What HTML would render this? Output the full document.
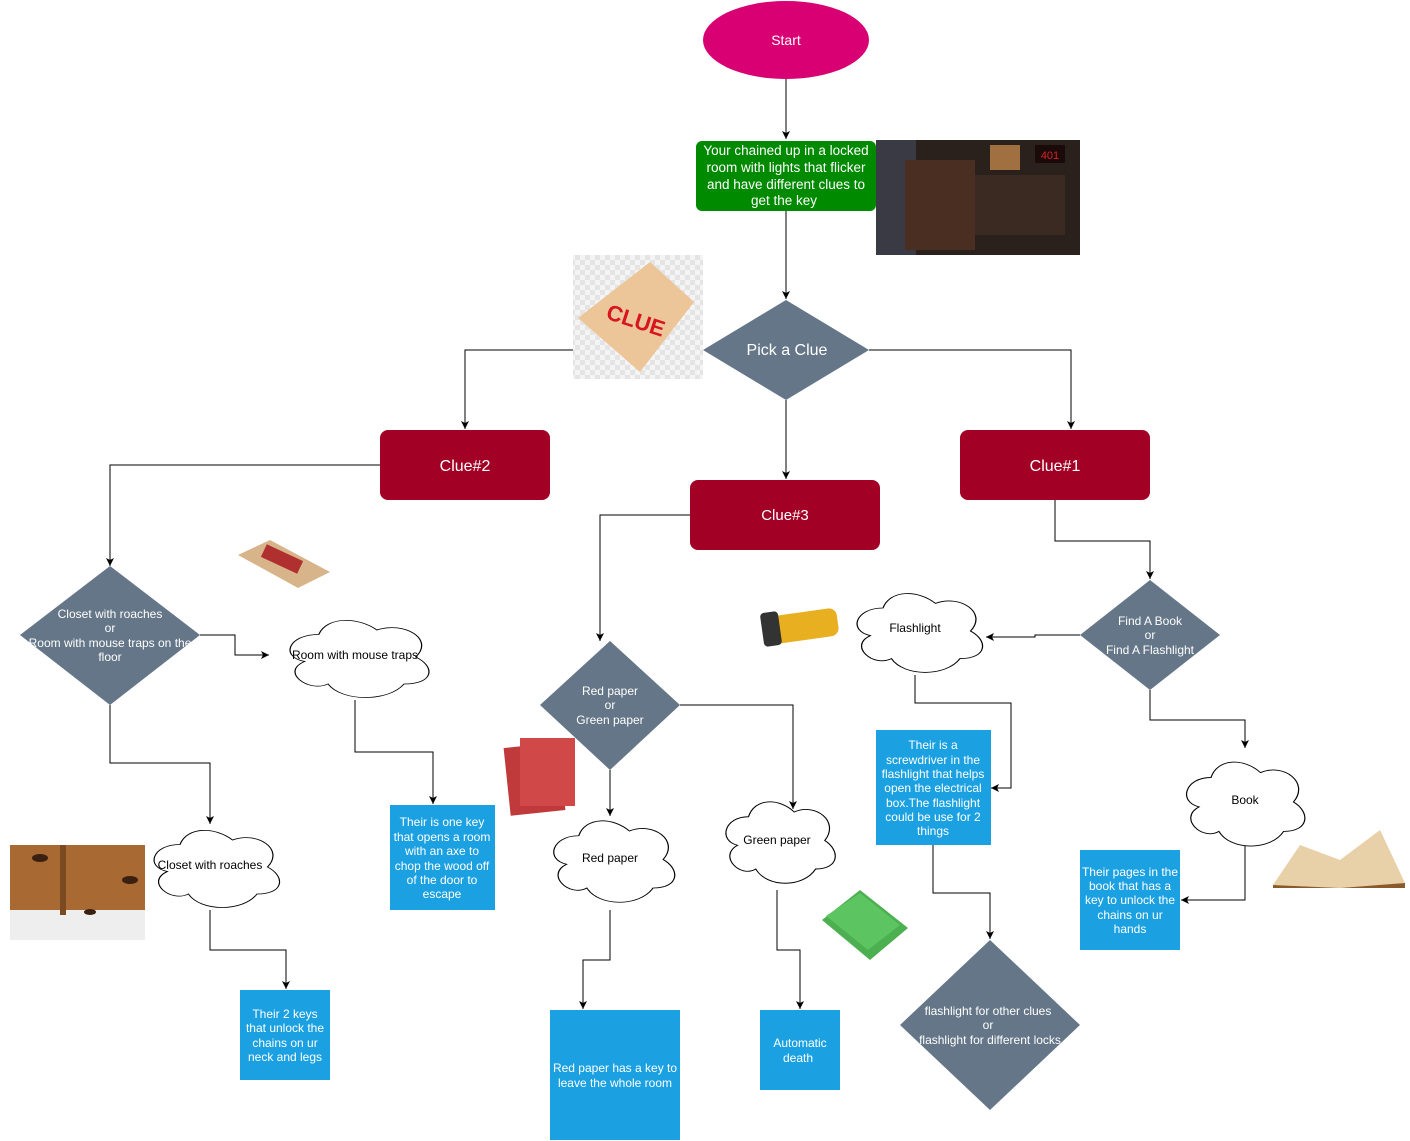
<!DOCTYPE html>
<html><head><meta charset="utf-8"><style>
html,body{margin:0;padding:0;background:#fff;}
svg{display:block;font-family:"Liberation Sans",Arial,sans-serif;}
.l{fill:none;stroke:#000;stroke-width:1;}
.cl{fill:#fff;stroke:#000;}
.t{fill:#fff;text-anchor:middle;}
.k{fill:#000;text-anchor:middle;}
</style></head><body>
<svg width="1410" height="1141" viewBox="0 0 1410 1141" xmlns="http://www.w3.org/2000/svg" font-size="12">
<defs>
<marker id="a" markerWidth="10" markerHeight="10" refX="8" refY="5" orient="auto" markerUnits="userSpaceOnUse">
<path d="M0,1 L8,5 L0,9 L2,5 Z" fill="#000"/></marker>
<path id="cloud" d="M25 25 C5 25 0 50 16 55 C0 66 18 90 31 80 C40 100 70 100 80 80 C100 80 100 60 87.5 50 C100 30 80 10 62.5 20 C50 5 30 5 25 25 Z"/>
<pattern id="chk" width="10" height="10" patternUnits="userSpaceOnUse"><rect width="10" height="10" fill="#f4f4f4"/><rect width="5" height="5" fill="#e4e4e4"/><rect x="5" y="5" width="5" height="5" fill="#e4e4e4"/></pattern>
</defs>

<!-- connectors -->
<path class="l" d="M786 79 V139" marker-end="url(#a)"/>
<path class="l" d="M786 211 V299" marker-end="url(#a)"/>
<path class="l" d="M573 350 H465 V429" marker-end="url(#a)"/>
<path class="l" d="M869 350 H1071 V429" marker-end="url(#a)"/>
<path class="l" d="M786 400 V479" marker-end="url(#a)"/>
<path class="l" d="M380 465 H110 V566" marker-end="url(#a)"/>
<path class="l" d="M200 635 H235 V655 H269" marker-end="url(#a)"/>
<path class="l" d="M355 700 V752 H433 V804" marker-end="url(#a)"/>
<path class="l" d="M110 705 V763 H210 V824" marker-end="url(#a)"/>
<path class="l" d="M210 910 V950 H286 V989" marker-end="url(#a)"/>
<path class="l" d="M690 515 H600 V641" marker-end="url(#a)"/>
<path class="l" d="M610 770 V816" marker-end="url(#a)"/>
<path class="l" d="M680 705 H793 V809" marker-end="url(#a)"/>
<path class="l" d="M610 910 V960 H583 V1009" marker-end="url(#a)"/>
<path class="l" d="M777 890 V950 H800 V1009" marker-end="url(#a)"/>
<path class="l" d="M1055 500 V541 H1150 V579" marker-end="url(#a)"/>
<path class="l" d="M1080 635 H1035 V637 H986" marker-end="url(#a)"/>
<path class="l" d="M915 675 V703 H1011 V788 H991" marker-end="url(#a)"/>
<path class="l" d="M933 845 V893 H990 V939" marker-end="url(#a)"/>
<path class="l" d="M1150 690 V720 H1245 V748" marker-end="url(#a)"/>
<path class="l" d="M1245 845 V900 H1181" marker-end="url(#a)"/>

<!-- start -->
<ellipse cx="786" cy="40" rx="83" ry="39" fill="#d80073"/>
<text class="t" x="786" y="45" style="font-size:14px">Start</text>

<!-- green -->
<rect x="696" y="141" width="180" height="70" rx="6" fill="#008a00"/>
<text class="t" style="font-size:13.5px"><tspan x="786" y="155">Your chained up in a locked</tspan><tspan x="786" y="172">room with lights that flicker</tspan><tspan x="786" y="189">and have different clues  to</tspan><tspan x="784" y="205">get the key</tspan></text>
<!-- room photo -->
<rect x="876" y="140" width="204" height="115" fill="#2a211d"/>
<rect x="876" y="140" width="40" height="115" fill="#3a3a44"/>
<rect x="905" y="160" width="70" height="90" fill="#4a2e22"/>
<rect x="975" y="175" width="90" height="60" fill="#3b2a22"/>
<rect x="990" y="145" width="30" height="25" fill="#a07040"/>
<rect x="1035" y="145" width="30" height="18" fill="#1a0a0a"/>
<text x="1050" y="159" fill="#e02020" text-anchor="middle" style="font-size:11px">401</text>

<!-- clue image -->
<rect x="573" y="255" width="130" height="124" fill="url(#chk)"/>
<polygon points="578,318 650,262 694,302 640,372" fill="#ecc698"/>
<text x="636" y="328" font-weight="bold" fill="#d8141e" text-anchor="middle" transform="rotate(18 636 320)" style="font-size:22px">CLUE</text>

<!-- pick a clue -->
<polygon points="786,300 869,350 786,400 703,350" fill="#647687"/>
<text class="t" x="787" y="355" style="font-size:16px">Pick a Clue</text>

<!-- clue boxes -->
<rect x="380" y="430" width="170" height="70" rx="8" fill="#a20025"/>
<text class="t" x="465" y="471" style="font-size:16px">Clue#2</text>
<rect x="960" y="430" width="190" height="70" rx="8" fill="#a20025"/>
<text class="t" x="1055" y="471" style="font-size:16px">Clue#1</text>
<rect x="690" y="480" width="190" height="70" rx="8" fill="#a20025"/>
<text class="t" x="785" y="520" style="font-size:15px">Clue#3</text>

<!-- closet diamond -->
<polygon points="110,566 200,635 110,705 20,635" fill="#647687"/>
<text class="t"><tspan x="110" y="618">Closet with roaches</tspan><tspan x="110" y="632">or</tspan><tspan x="110" y="647">Room with mouse traps on the</tspan><tspan x="110" y="661">floor</tspan></text>

<!-- mousetrap -->
<polygon points="238,555 270,540 330,572 298,588" fill="#d8b48a"/>
<rect x="262" y="552" width="40" height="14" fill="#b03030" transform="rotate(25 282 559)"/>

<!-- clouds -->
<use href="#cloud" class="cl" transform="translate(280,612) scale(1.55,0.9)" style="stroke-width:0.8"/>
<text class="k" x="355" y="659">Room with mouse traps</text>
<use href="#cloud" class="cl" transform="translate(145,822) scale(1.4,0.9)" style="stroke-width:0.85"/>
<text class="k" x="210" y="869">Closet with roaches</text>
<use href="#cloud" class="cl" transform="translate(545,812) scale(1.35,0.95)" style="stroke-width:0.9"/>
<text class="k" x="610" y="862">Red paper</text>
<use href="#cloud" class="cl" transform="translate(718,793) scale(1.22,0.95)" style="stroke-width:0.95"/>
<text class="k" x="777" y="844">Green paper</text>
<use href="#cloud" class="cl" transform="translate(848,585) scale(1.4,0.92)" style="stroke-width:0.9"/>
<text class="k" x="915" y="632">Flashlight</text>
<use href="#cloud" class="cl" transform="translate(1178,753) scale(1.32,0.98)" style="stroke-width:0.9"/>
<text class="k" x="1245" y="804">Book</text>

<!-- roach photo -->
<rect x="10" y="845" width="135" height="95" fill="#a86a32"/>
<rect x="10" y="910" width="135" height="30" fill="#eeeeee"/>
<rect x="60" y="845" width="6" height="70" fill="#7a4a22"/>
<ellipse cx="40" cy="858" rx="8" ry="4" fill="#3a2010"/>
<ellipse cx="130" cy="880" rx="8" ry="4" fill="#3a2010"/>
<ellipse cx="90" cy="912" rx="6" ry="3" fill="#3a2010"/>

<!-- blue boxes -->
<rect x="390" y="805" width="105" height="105" fill="#1ba1e2"/>
<text class="t"><tspan x="442" y="826">Their is one key</tspan><tspan x="442" y="841">that opens a room</tspan><tspan x="442" y="855">with an axe to</tspan><tspan x="442" y="870">chop the wood off</tspan><tspan x="442" y="884">of the door to</tspan><tspan x="442" y="898">escape</tspan></text>
<rect x="240" y="990" width="90" height="90" fill="#1ba1e2"/>
<text class="t"><tspan x="285" y="1018">Their 2 keys</tspan><tspan x="285" y="1032">that unlock the</tspan><tspan x="285" y="1047">chains on ur</tspan><tspan x="285" y="1061">neck and legs</tspan></text>
<rect x="550" y="1010" width="130" height="130" fill="#1ba1e2"/>
<text class="t"><tspan x="615" y="1072">Red paper has a key to</tspan><tspan x="615" y="1087">leave the whole room</tspan></text>
<rect x="760" y="1010" width="80" height="80" fill="#1ba1e2"/>
<text class="t"><tspan x="800" y="1047">Automatic</tspan><tspan x="798" y="1062">death</tspan></text>
<rect x="876" y="730" width="115" height="115" fill="#1ba1e2"/>
<text class="t"><tspan x="933" y="749">Their is a</tspan><tspan x="933" y="764">screwdriver in the</tspan><tspan x="933" y="778">flashlight that helps</tspan><tspan x="933" y="792">open the electrical</tspan><tspan x="933" y="807">box.The flashlight</tspan><tspan x="933" y="821">could be use for 2</tspan><tspan x="933" y="835">things</tspan></text>
<rect x="1080" y="850" width="100" height="100" fill="#1ba1e2"/>
<text class="t"><tspan x="1130" y="876">Their pages in the</tspan><tspan x="1130" y="890">book that has a</tspan><tspan x="1130" y="904">key to unlock the</tspan><tspan x="1130" y="919">chains on ur</tspan><tspan x="1130" y="933">hands</tspan></text>

<!-- red/green diamond -->
<polygon points="610,641 680,705 610,770 540,705" fill="#647687"/>
<text class="t"><tspan x="610" y="695">Red paper</tspan><tspan x="610" y="709">or</tspan><tspan x="610" y="724">Green  paper</tspan></text>
<rect x="507" y="745" width="55" height="68" fill="#c0393b" transform="rotate(-6 535 779)"/>
<rect x="520" y="738" width="55" height="68" fill="#d04848"/>
<polygon points="822,920 860,890 908,928 870,960" fill="#4caf50"/>
<polygon points="826,916 860,893 900,925 868,950" fill="#5cc460"/>

<!-- find book diamond -->
<polygon points="1150,580 1220,635 1150,690 1080,635" fill="#647687"/>
<text class="t"><tspan x="1150" y="625">Find A Book</tspan><tspan x="1150" y="639">or</tspan><tspan x="1150" y="654">Find A Flashlight</tspan></text>
<rect x="770" y="612" width="68" height="28" rx="8" fill="#e8b020" transform="rotate(-8 804 626)"/>
<rect x="762" y="612" width="18" height="34" rx="4" fill="#333" transform="rotate(-8 771 629)"/>
<!-- bottom diamond -->
<polygon points="990,940 1080,1025 990,1110 900,1025" fill="#647687"/>
<text class="t"><tspan x="988" y="1015">flashlight for other clues</tspan><tspan x="988" y="1029">or</tspan><tspan x="990" y="1044">flashlight for different locks</tspan></text>
<path d="M1273 885 L1300 845 L1340 860 L1380 830 L1405 883 L1340 888 Z" fill="#e8d0a8"/>
<path d="M1273 885 L1340 888 L1405 883 L1405 888 L1273 888 Z" fill="#8a5a2a"/>
</svg>
</body></html>
